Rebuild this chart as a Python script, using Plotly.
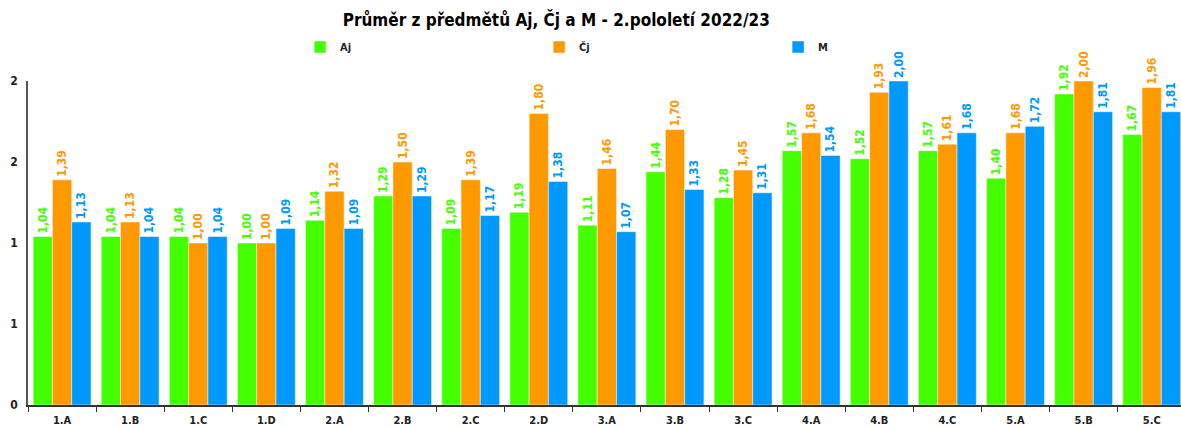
import plotly.graph_objects as go

categories = ["1.A", "1.B", "1.C", "1.D", "2.A", "2.B", "2.C", "2.D", "3.A", "3.B",
              "3.C", "4.A", "4.B", "4.C", "5.A", "5.B", "5.C"]
aj = [1.04, 1.04, 1.04, 1.00, 1.14, 1.29, 1.09, 1.19, 1.11, 1.44, 1.28, 1.57, 1.52, 1.57, 1.40, 1.92, 1.67]
cj = [1.39, 1.13, 1.00, 1.00, 1.32, 1.50, 1.39, 1.80, 1.46, 1.70, 1.45, 1.68, 1.93, 1.61, 1.68, 2.00, 1.96]
m = [1.13, 1.04, 1.04, 1.09, 1.09, 1.29, 1.17, 1.38, 1.07, 1.33, 1.31, 1.54, 2.00, 1.68, 1.72, 1.81, 1.81]
series_names = ["Aj", "Čj", "M"]
y_tick_values = [0, 0.5, 1, 1.5, 2]
y_tick_labels = ["0", "1", "1", "2", "2"]
title_text = "Průměr z předmětů Aj, Čj a M - 2.pololetí 2022/23"

colors = ["#44ff00", "#ff9900", "#0099ff"]
FONT = "DejaVu Sans Condensed, Liberation Sans Narrow, sans-serif"

fig = go.Figure()
for name, vals, col in zip(series_names, [aj, cj, m], colors):
    fig.add_trace(go.Bar(
        x=categories, y=vals, name=name,
        marker=dict(color=col, line=dict(color="rgba(255,255,255,0.6)", width=0.8)),
        texttemplate="%{y:.2f}", textposition="outside", textangle=-90,
        constraintext="none",
        textfont=dict(color=col, size=12, family=FONT, weight="bold"),
        cliponaxis=False,
    ))

fig.update_layout(
    width=1181, height=428,
    margin=dict(l=28, r=0, t=81, b=23),
    paper_bgcolor="white", plot_bgcolor="white",
    barmode="group", bargap=0.15, bargroupgap=0,
    separators=", ",
    font=dict(family=FONT, color="#222222"),
    title=dict(text="<b>" + title_text + "</b>", x=0.471, xanchor="center", y=0.952, yanchor="middle",
               font=dict(size=17, family=FONT, color="black")),
    legend=dict(orientation="h", x=0.236, xanchor="left", y=1.105, yanchor="middle",
                entrywidth=194, entrywidthmode="pixels", bgcolor="rgba(0,0,0,0)",
                font=dict(size=11, family=FONT, weight="bold"), itemwidth=30),
    showlegend=True,
)
fig.update_xaxes(
    range=[-0.5, 16.43], showline=True, linecolor="#333333", linewidth=1.5,
    ticks="outside", tickson="boundaries", ticklen=5, tickcolor="#333333",
    tickfont=dict(size=11, family=FONT, weight="bold", color="#222222"),
    ticklabelstandoff=4, showgrid=False,
)
fig.update_yaxes(
    range=[0, 2], tickvals=y_tick_values, ticktext=y_tick_labels,
    showline=True, linecolor="#555555", linewidth=1.5, showgrid=False, zeroline=False,
    tickfont=dict(size=12, family=FONT, weight="bold", color="#222222"), ticklabelstandoff=6,
)

fig.write_html("out.html", config={"displayModeBar": False},
               post_script="document.body.style.margin='0';")
